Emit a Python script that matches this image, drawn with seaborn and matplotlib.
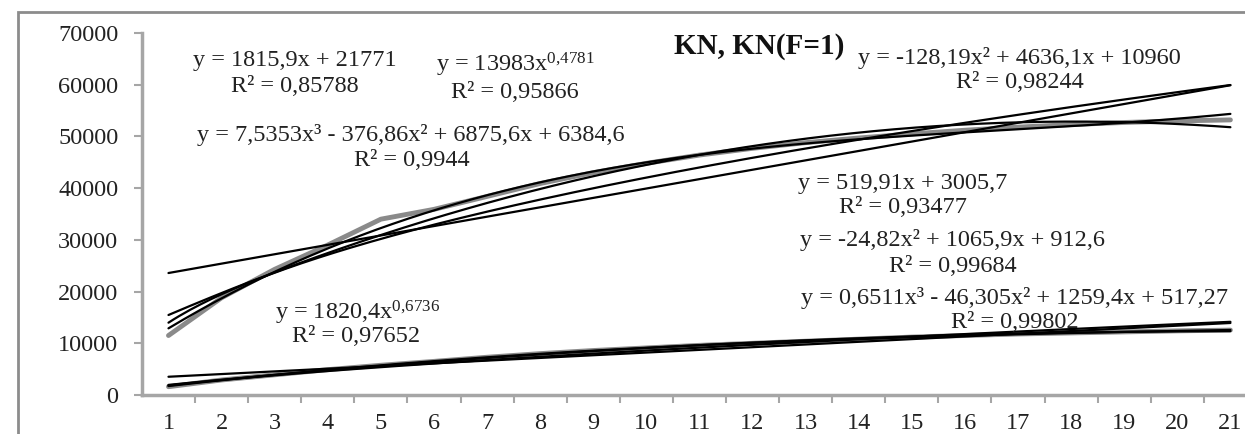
import numpy as np
import pandas as pd
import seaborn as sns
import matplotlib.pyplot as plt
from matplotlib.patches import Rectangle

days = list(range(1, 22))
kn = [11500, 18800, 24300, 29000, 34000, 35900, 38400, 40900, 43000, 44800, 46400,
      47700, 48800, 49700, 50500, 51200, 51800, 52300, 52700, 53000, 53200]
kn_f1 = [1600, 2900, 3900, 4900, 5750, 6500, 7300, 8000, 8600, 9100, 9600,
         10000, 10400, 10800, 11200, 11500, 11800, 12000, 12200, 12400, 12550]

# trendline coefficients, as printed on the chart
kn_lin = [1815.9, 21771]
kn_pow = [13983, 0.4781]
kn_poly2 = [-128.19, 4636.1, 10960]
kn_poly3 = [7.5353, -376.86, 6875.6, 6384.6]
f1_lin = [519.91, 3005.7]
f1_pow = [1820.4, 0.6736]
f1_poly2 = [-24.82, 1065.9, 912.6]
f1_poly3 = [0.6511, -46.305, 1259.4, 517.27]

sns.set_style('white')
plt.rcParams['font.family'] = ['Liberation Serif', 'DejaVu Serif']
plt.rcParams['mathtext.default'] = 'regular'

obs = pd.concat([
    pd.DataFrame({'day': days, 'value': kn, 'series': 'KN'}),
    pd.DataFrame({'day': days, 'value': kn_f1, 'series': 'KN(F=1)'}),
], ignore_index=True)

xs = np.linspace(1, 21, 200)
fits = {
    'kn_lin': np.polyval(kn_lin, xs),
    'kn_pow': kn_pow[0] * xs ** kn_pow[1],
    'kn_poly2': np.polyval(kn_poly2, xs),
    'kn_poly3': np.polyval(kn_poly3, xs),
    'f1_lin': np.polyval(f1_lin, xs),
    'f1_pow': f1_pow[0] * xs ** f1_pow[1],
    'f1_poly2': np.polyval(f1_poly2, xs),
    'f1_poly3': np.polyval(f1_poly3, xs),
}
trend = pd.concat([pd.DataFrame({'x': xs, 'y': v, 'fit': k}) for k, v in fits.items()],
                  ignore_index=True)

fig = plt.figure(figsize=(12.45, 4.34), dpi=100)
ax = fig.add_axes([0.114, 0.0899, 0.8956, 0.834])

sns.lineplot(data=obs, x='day', y='value', units='series', estimator=None,
             color='#8a8a8a', lw=3.5, ax=ax, zorder=2)
sns.lineplot(data=trend, x='x', y='y', units='fit', estimator=None,
             color='black', lw=1.6, ax=ax, zorder=3)

ax.set_xlim(0.5, 21.5)
ax.set_ylim(0, 70000)
ax.set_yticks(range(0, 70001, 10000))
ax.set_xticks(days)
ax.set_xticks(np.arange(1.5, 21.5, 1), minor=True)
ax.set_xlabel('')
ax.set_ylabel('')
for s in ['top', 'right']:
    ax.spines[s].set_visible(False)
for s in ['left', 'bottom']:
    ax.spines[s].set_color('#a6a6a6')
    ax.spines[s].set_linewidth(2.5)
ax.tick_params(axis='y', direction='out', length=6, width=1.5, color='#a6a6a6',
               pad=11, labelsize=17.5, labelcolor='#222222', left=True)
ax.tick_params(axis='x', which='major', length=0, pad=13, labelsize=17.5,
               labelcolor='#222222')
ax.tick_params(axis='x', which='minor', direction='out', length=6, width=1.5,
               color='#a6a6a6', bottom=True)

tc = '#222222'
fs = 17.5
txt = [
    (295, 60, 'y = 1815,9x + 21771'), (295, 86, 'R² = 0,85788'),
    (515, 65, 'y = 13983x$^{0{,}4781}$'), (515, 92, 'R² = 0,95866'),
    (1019, 58, 'y = -128,19x² + 4636,1x + 10960'), (1020, 83, 'R² = 0,98244'),
    (411, 135, 'y = 7,5353x³ - 376,86x² + 6875,6x + 6384,6'), (412, 160, 'R² = 0,9944'),
    (903, 183, 'y = 519,91x + 3005,7'), (903, 208, 'R² = 0,93477'),
    (953, 240, 'y = -24,82x² + 1065,9x + 912,6'), (953, 266, 'R² = 0,99684'),
    (1015, 298, 'y = 0,6511x³ - 46,305x² + 1259,4x + 517,27'), (1015, 322, 'R² = 0,99802'),
    (358, 313, 'y = 1820,4x$^{0{,}6736}$'), (356, 337, 'R² = 0,97652'),
]
for px, py, s in txt:
    fig.text(px / 1245, 1 - py / 434, s, ha='center', va='center', fontsize=fs,
             color=tc)
fig.text(759 / 1245, 1 - 47 / 434, 'KN, KN(F=1)', ha='center', va='center',
         fontsize=21, fontweight='bold', color='#111111')

fig.patches.append(Rectangle((18 / 1245, -0.5), 2, 0.5 + 1 - 12 / 434,
                             transform=fig.transFigure, fill=False,
                             edgecolor='#8c8c8c', lw=2))

fig.savefig('out.png', dpi=100)
